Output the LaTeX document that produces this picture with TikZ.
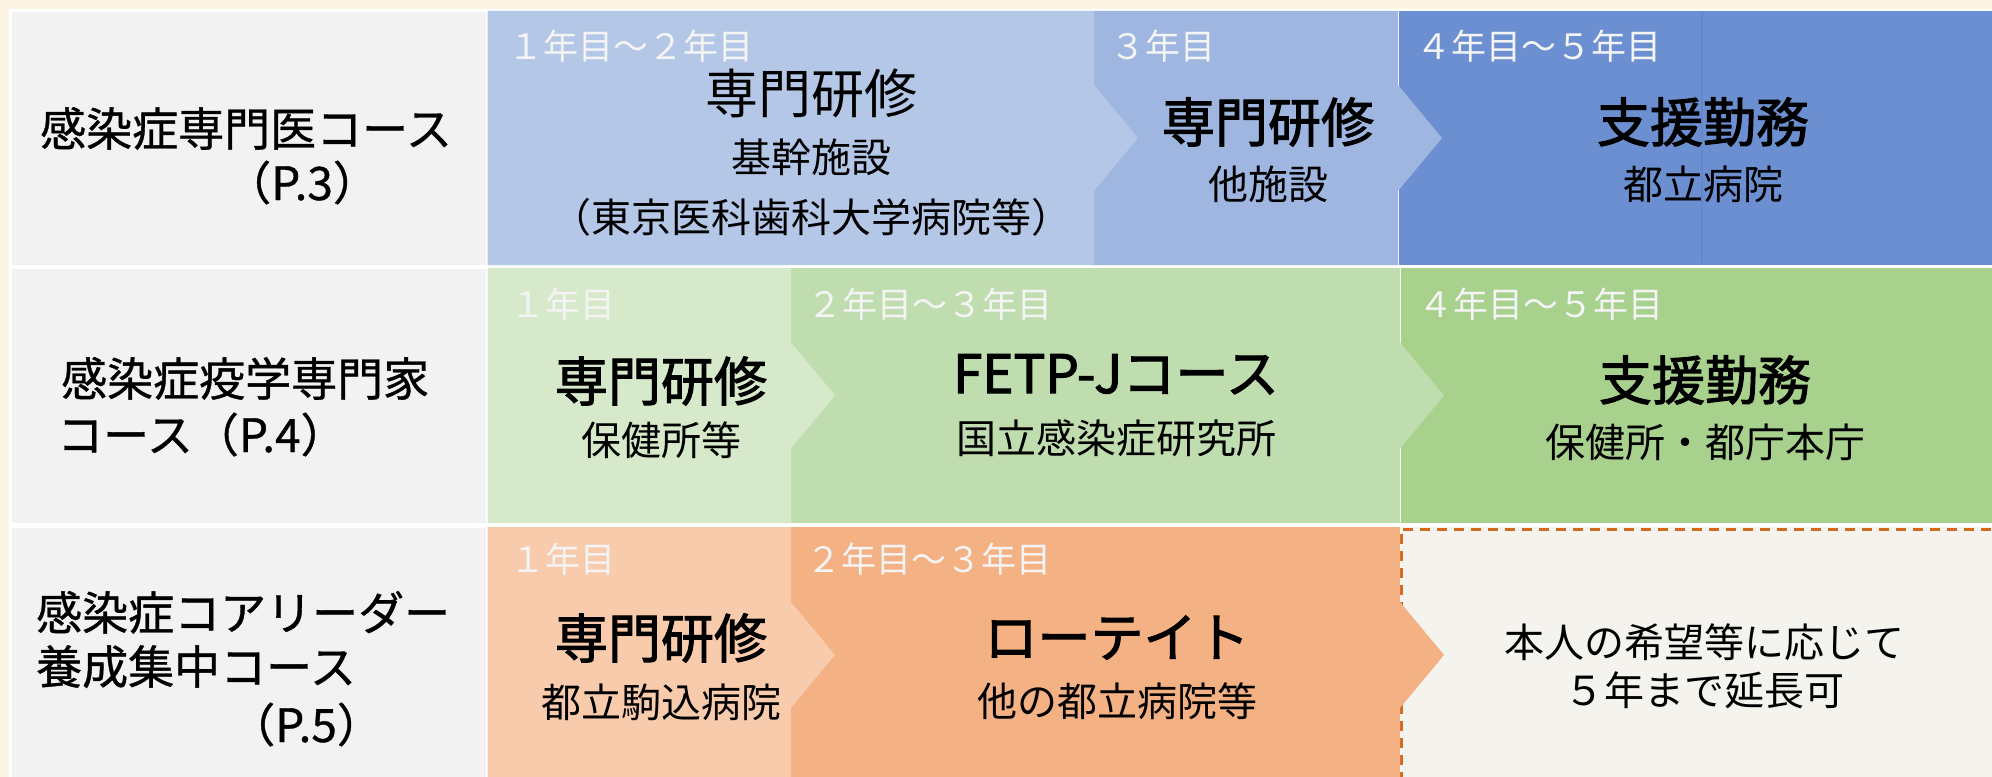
\documentclass[tikz,border=0pt]{standalone}
\usepackage{fontspec}
\setmainfont{Noto Sans CJK JP}
\newfontfamily\jpb[FakeBold=2]{Noto Sans CJK JP}
\newfontfamily\jpm[FakeBold=0.8]{Noto Sans CJK JP}
\definecolor{bgc}{HTML}{FDF5E4}
\definecolor{grayc}{HTML}{F2F2F2}
\definecolor{blueA}{HTML}{B4C7E7}
\definecolor{blueB}{HTML}{9FB6E0}
\definecolor{blueC}{HTML}{6B8FD0}
\definecolor{blueL}{HTML}{6388CB}
\definecolor{greenA}{HTML}{D6E9CA}
\definecolor{greenB}{HTML}{C0DDB0}
\definecolor{greenC}{HTML}{A9D18E}
\definecolor{orA}{HTML}{F8CBAD}
\definecolor{orB}{HTML}{F4B183}
\definecolor{extc}{HTML}{F5F3EE}
\definecolor{dashc}{HTML}{D2691E}
\definecolor{yrc}{HTML}{F4F4F4}
\newcommand\chevshape[6]{%
  \fill[#1] (#2,#4) -- (#3,#4) -- (#3,{#6-53}) -- ({#3+44},#6) -- (#3,{#6+53}) -- (#3,#5) -- (#2,#5) -- cycle;}
\begin{document}
\begin{tikzpicture}[x=1bp,y=-1bp,
  lab/.style={anchor=base west, inner sep=0pt, font=\jpm\fontsize{46bp}{55bp}\selectfont},
  yr/.style={anchor=base west, inner sep=0pt, text=yrc, font=\fontsize{35bp}{40bp}\selectfont},
  ttl/.style={anchor=base, inner sep=0pt, font=\jpb\fontsize{53bp}{60bp}\selectfont},
  ttlr/.style={anchor=base, inner sep=0pt, font=\fontsize{53bp}{60bp}\selectfont},
  sub/.style={anchor=base, inner sep=0pt, font=\fontsize{40bp}{48bp}\selectfont},
  graycell/.style={fill=grayc}]
\useasboundingbox (0,0) rectangle (1992,777);
\fill[bgc] (0,0) rectangle (1992,777);
\begin{scope}
\clip (0,0) rectangle (1992,777);
\fill[white] (9,9.5) rectangle (1992,777);
% label cells
\fill[graycell] (12,12) rectangle (485.5,264.5);
\fill[graycell] (12,268.5) rectangle (485.5,522.5);
\fill[graycell] (12,528) rectangle (485.5,777);
% row 1
\fill[blueC] (1399,11) rectangle (1992,265);
\draw[blueL, line width=1.5bp] (1702,12) -- (1702,263);
\chevshape{blueB}{1094}{1398}{11}{265}{138}
\chevshape{blueA}{487.5}{1094}{11}{265}{138}
% row 2
\fill[greenC] (1401,268) rectangle (1992,523);
\chevshape{greenB}{791}{1400}{268}{523}{395.5}
\chevshape{greenA}{487.5}{791}{268}{523}{395.5}
% row 3
\fill[extc] (1401,527) rectangle (1992,782);
\draw[dashc, line width=3bp, dash pattern=on 10bp off 7bp] (1401,782) -- (1401,529) -- (1992,529);
\chevshape{orB}{791}{1400}{527}{782}{655}
\chevshape{orA}{487.5}{791}{527}{782}{655}
\end{scope}
% labels
\node[lab] (l1a) at (40,146) {感染症専門医コース};
\node[lab] (l1b) at (225,200) {（P.3）};
\node[lab] (l2a) at (61,396) {感染症疫学専門家};
\node[lab] (l2b) at (57,452) {コース（P.4）};
\node[lab] (l3a) at (36,630) {感染症コアリーダー};
\node[lab] (l3b) at (36,684) {養成集中コース};
\node[lab] (l3c) at (229,742) {（P.5）};
% years
\node[yr] (y11) at (508,60) {１年目～２年目};
\node[yr] (y12) at (1110,60) {３年目};
\node[yr] (y13) at (1416,60) {４年目～５年目};
\node[yr] (y21) at (510,317) {１年目};
\node[yr] (y22) at (807,317) {２年目～３年目};
\node[yr] (y23) at (1418,317) {４年目～５年目};
\node[yr] (y31) at (510,572) {１年目};
\node[yr] (y32) at (806,572) {２年目～３年目};
% row 1 contents
\node[ttlr] (t11) at (811,113) {専門研修};
\node[sub] (s11a) at (811,172) {基幹施設};
\node[sub] (s11b) at (811,232) {（東京医科歯科大学病院等）};
\node[ttl] (t12) at (1268,142) {専門研修};
\node[sub] (s12) at (1268,199) {他施設};
\node[ttl] (t13) at (1703,142) {支援勤務};
\node[sub] (s13) at (1703,199) {都立病院};
% row 2 contents
\node[ttl] (t21) at (661,401) {専門研修};
\node[sub] (s21) at (661,455) {保健所等};
\node[ttl] (t22) at (1116,393) {FETP-Jコース};
\node[sub] (s22) at (1116,453) {国立感染症研究所};
\node[ttl] (t23) at (1705,400) {支援勤務};
\node[sub] (s23) at (1705,457) {保健所・都庁本庁};
% row 3 contents
\node[ttl] (t31) at (661,658) {専門研修};
\node[sub] (s31) at (661,717) {都立駒込病院};
\node[ttl] (t32) at (1117,657) {ローテイト};
\node[sub] (s32) at (1117,716) {他の都立病院等};
\node[sub] (s33a) at (1704,657) {本人の希望等に応じて};
\node[sub] (s33b) at (1704,705) {５年まで延長可};
\end{tikzpicture}
\end{document}
